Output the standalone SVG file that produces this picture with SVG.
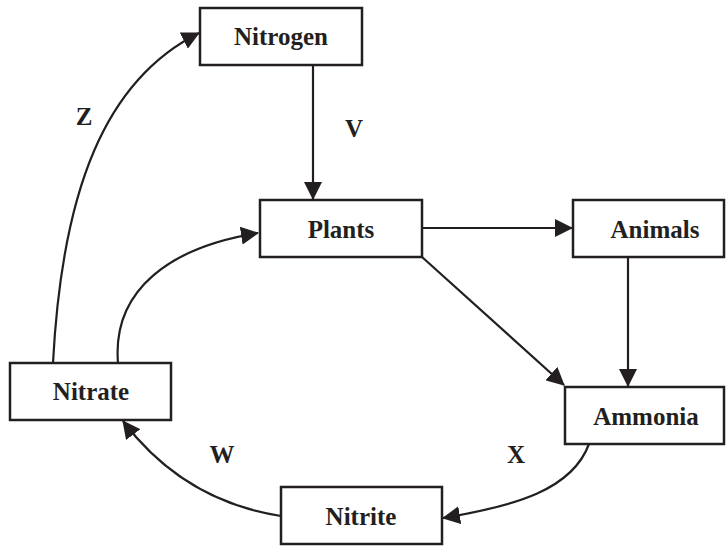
<svg xmlns="http://www.w3.org/2000/svg" width="726" height="547" viewBox="0 0 726 547">
<style>
.box{fill:#fff;stroke:#231f20;stroke-width:2.5}
.lbl{font-family:"Liberation Serif","Times New Roman",serif;font-weight:bold;font-size:25px;fill:#231f20;text-anchor:middle}
.edge{fill:none;stroke:#231f20;stroke-width:2.2;marker-end:url(#ah)}
</style>
<defs>
<marker id="ah" markerUnits="userSpaceOnUse" markerWidth="18" markerHeight="18" refX="17" refY="9" orient="auto">
<path d="M0,0 L18,9 L0,18 z" fill="#231f20"/>
</marker>
</defs>
<rect width="726" height="547" fill="#fff"/>
<g id="connectors">
<path class="edge" d="M313,65 L313,199"/>
<path class="edge" d="M422,228 L572,228"/>
<path class="edge" d="M628,257 L628,386"/>
<path class="edge" d="M422,257 L564,385"/>
<path class="edge" d="M589,444 C572,490 515,506 443,518"/>
<path class="edge" d="M281,516 C210,505 160,470 123,421"/>
<path class="edge" d="M53,363 C62,190 105,80 199,33"/>
<path class="edge" d="M118,363 C112,290 170,247 258,233"/>
</g>
<g id="nitrogen"><rect class="box" x="200" y="8" width="162" height="57"/><text class="lbl" x="281" y="45">Nitrogen</text></g>
<g id="plants"><rect class="box" x="260" y="200" width="162" height="57"/><text class="lbl" x="341" y="238">Plants</text></g>
<g id="animals"><rect class="box" x="573" y="200" width="151" height="57"/><text class="lbl" x="655" y="238">Animals</text></g>
<g id="ammonia"><rect class="box" x="565" y="387" width="159" height="57"/><text class="lbl" x="646" y="425">Ammonia</text></g>
<g id="nitrate"><rect class="box" x="10" y="363" width="161" height="57"/><text class="lbl" x="91" y="400">Nitrate</text></g>
<g id="nitrite"><rect class="box" x="281" y="487" width="161" height="57"/><text class="lbl" x="361" y="525">Nitrite</text></g>
<g id="labels">
<text class="lbl" x="84" y="125">Z</text>
<text class="lbl" x="354" y="137">V</text>
<text class="lbl" x="222" y="463">W</text>
<text class="lbl" x="516" y="463">X</text>
</g>
</svg>
